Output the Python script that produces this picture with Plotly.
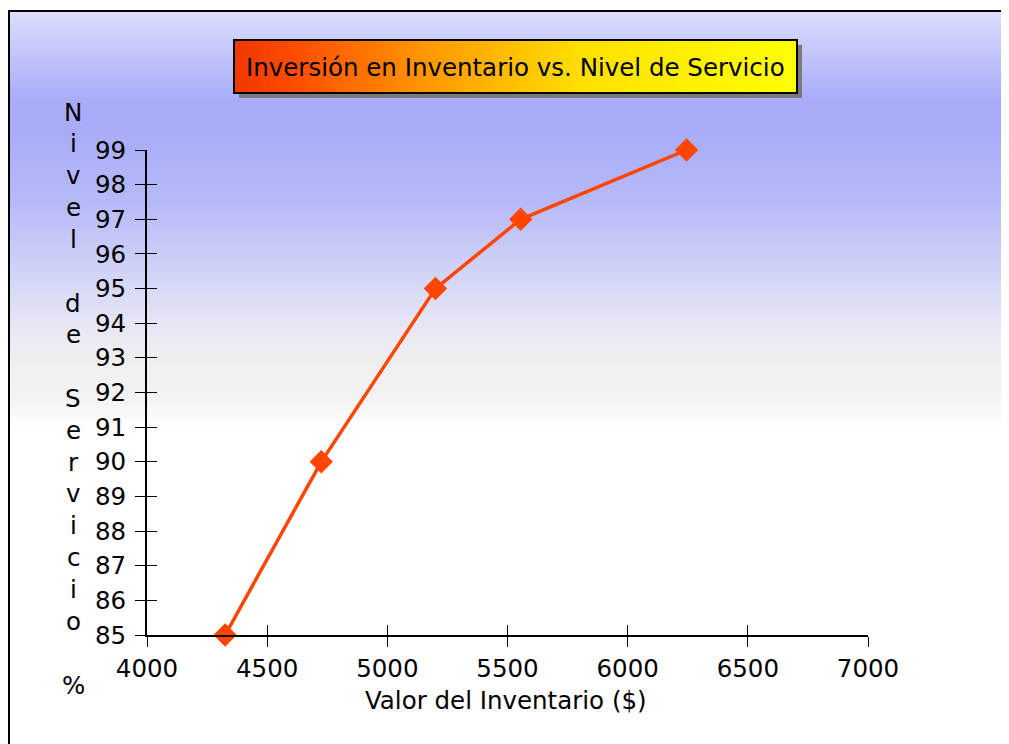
import plotly.graph_objects as go

# ---- data ----
inventory_value = [4325, 4725, 5200, 5555, 6245]
service_level = [85, 90, 95, 97, 99]
x_ticks = [4000, 4500, 5000, 5500, 6000, 6500, 7000]
y_ticks = list(range(85, 100))
title_text = "Inversión en Inventario vs. Nivel de Servicio"
x_title = "Valor del Inventario ($)"
y_title_chars = list("Nivel") + [""] + list("de") + [""] + list("Servicio") + [""] + ["%"]

OFF = 8  # page body margin; page pixel p -> figure pixel p - OFF
W, H = 1009 - OFF, 744 - OFF
L, R, T, B = 147 - OFF, 868 - OFF, 150 - OFF, 635 - OFF
FONT = "DejaVu Sans"
FS = 24.5


def px(x):
    """page x pixel -> paper x"""
    return (x - OFF - L) / (R - L)


def py(y):
    """page y pixel -> paper y"""
    return (B - (y - OFF)) / (B - T)


def hex2rgb(h):
    h = h.lstrip('#')
    return tuple(int(h[i:i + 2], 16) for i in (0, 2, 4))


def interp(stops, t):
    for (t0, c0), (t1, c1) in zip(stops, stops[1:]):
        if t0 <= t <= t1:
            f = 0 if t1 == t0 else (t - t0) / (t1 - t0)
            a, b = hex2rgb(c0), hex2rgb(c1)
            return 'rgb(%d,%d,%d)' % tuple(round(a[i] + (b[i] - a[i]) * f) for i in range(3))
    return stops[-1][1]


shapes = []
# background gradient (page pixel y stops)
bg_stops = [(10, '#dcdefc'), (100, '#a8acf8'), (130, '#a8acf8'), (200, '#b6b9f8'),
            (280, '#d4d6f8'), (330, '#e8e8f4'), (370, '#f0f0f0'), (400, '#f3f3f3'), (428, '#ffffff')]
step = 3
y = 10
while y < 430:
    shapes.append(dict(type='rect', xref='paper', yref='paper', layer='below',
                       x0=px(9), x1=px(1009), y0=py(y), y1=py(y + step + 0.5),
                       line=dict(width=0), fillcolor=interp(bg_stops, y + step / 2)))
    y += step

# outer frame: top and left edges (right/bottom lie outside the picture)
shapes.append(dict(type='line', xref='paper', yref='paper', layer='below',
                   x0=px(8), x1=px(1009), y0=py(11), y1=py(11), line=dict(color='black', width=2)))
shapes.append(dict(type='line', xref='paper', yref='paper', layer='below',
                   x0=px(9), x1=px(9), y0=py(10), y1=py(744), line=dict(color='black', width=2)))

# title box: shadow, gradient, border
bx0, bx1, by0, by1 = 234, 797, 40, 93
shapes.append(dict(type='rect', xref='paper', yref='paper', layer='above',
                   x0=px(bx0 + 5), x1=px(bx1 + 5), y0=py(by0 + 5), y1=py(by1 + 5),
                   line=dict(width=0), fillcolor='#7a7a7a'))
tb_stops = [(0.0, '#ee3800'), (0.1, '#ff4a00'), (0.35, '#ff9a00'), (0.62, '#ffe000'), (1.0, '#ffff00')]
n = 140
for i in range(n):
    xa = bx0 + (bx1 - bx0) * i / n
    xb = bx0 + (bx1 - bx0) * (i + 1.3) / n
    shapes.append(dict(type='rect', xref='paper', yref='paper', layer='above',
                       x0=px(xa), x1=px(min(xb, bx1)), y0=py(by0), y1=py(by1),
                       line=dict(width=0), fillcolor=interp(tb_stops, (i + 0.5) / n)))
shapes.append(dict(type='rect', xref='paper', yref='paper', layer='above',
                   x0=px(bx0), x1=px(bx1), y0=py(by0), y1=py(by1),
                   line=dict(color='black', width=2), fillcolor='rgba(0,0,0,0)'))

annotations = [
    dict(text=title_text, xref='paper', yref='paper', x=px((bx0 + bx1) / 2), y=py((by0 + by1) / 2 + 1),
         showarrow=False, xanchor='center', yanchor='middle', font=dict(family=FONT, size=FS, color='black')),
    dict(text=x_title, xref='paper', yref='paper', x=px(506), y=py(700),
         showarrow=False, xanchor='center', yanchor='middle', font=dict(family=FONT, size=FS, color='black')),
]
y0c, dy = 112, (685 - 112) / (len(y_title_chars) - 1)
for i, ch in enumerate(y_title_chars):
    if ch:
        annotations.append(dict(text=ch, xref='paper', yref='paper', x=px(73), y=py(y0c + i * dy),
                                showarrow=False, xanchor='center', yanchor='middle',
                                font=dict(family=FONT, size=FS, color='black')))

fig = go.Figure()
fig.add_trace(go.Scatter(x=inventory_value, y=service_level, mode='lines+markers',
                         line=dict(color='#ff4500', width=3.5),
                         marker=dict(symbol='diamond', size=18, color='#ff4500'),
                         cliponaxis=False, showlegend=False, hoverinfo='x+y'))
# helper trace for the inner tick axes
fig.add_trace(go.Scatter(x=inventory_value, y=service_level, mode='markers', xaxis='x2', yaxis='y2',
                         marker=dict(opacity=0), showlegend=False, hoverinfo='skip'))

tickfont = dict(family=FONT, size=FS, color='black')
fig.update_layout(
    width=W, height=H, autosize=False,
    margin=dict(l=L, r=W - R, t=T, b=H - B, pad=0),
    paper_bgcolor='white', plot_bgcolor='rgba(0,0,0,0)',
    shapes=shapes, annotations=annotations, showlegend=False,
    xaxis=dict(range=[4000, 7000], tickvals=x_ticks, ticks='outside', ticklen=10, tickwidth=1,
               tickcolor='black', showline=True, linecolor='black', linewidth=2, showgrid=False,
               zeroline=False, tickfont=tickfont, ticklabelstandoff=1, fixedrange=True),
    yaxis=dict(range=[85, 99], tickvals=y_ticks, ticks='outside', ticklen=10, tickwidth=1,
               tickcolor='black', showline=True, linecolor='black', linewidth=2, showgrid=False,
               zeroline=False, tickfont=tickfont, ticklabelstandoff=4, fixedrange=True),
    xaxis2=dict(range=[4000, 7000], tickvals=x_ticks, ticks='inside', ticklen=10, tickwidth=1,
                tickcolor='black', showline=False, showgrid=False, zeroline=False,
                showticklabels=False, overlaying='x', side='bottom', anchor='y2', fixedrange=True),
    yaxis2=dict(range=[85, 99], tickvals=y_ticks, ticks='inside', ticklen=10, tickwidth=1,
                tickcolor='black', showline=False, showgrid=False, zeroline=False,
                showticklabels=False, overlaying='y', side='left', anchor='x2', fixedrange=True),
)

fig.write_html("out.html")
